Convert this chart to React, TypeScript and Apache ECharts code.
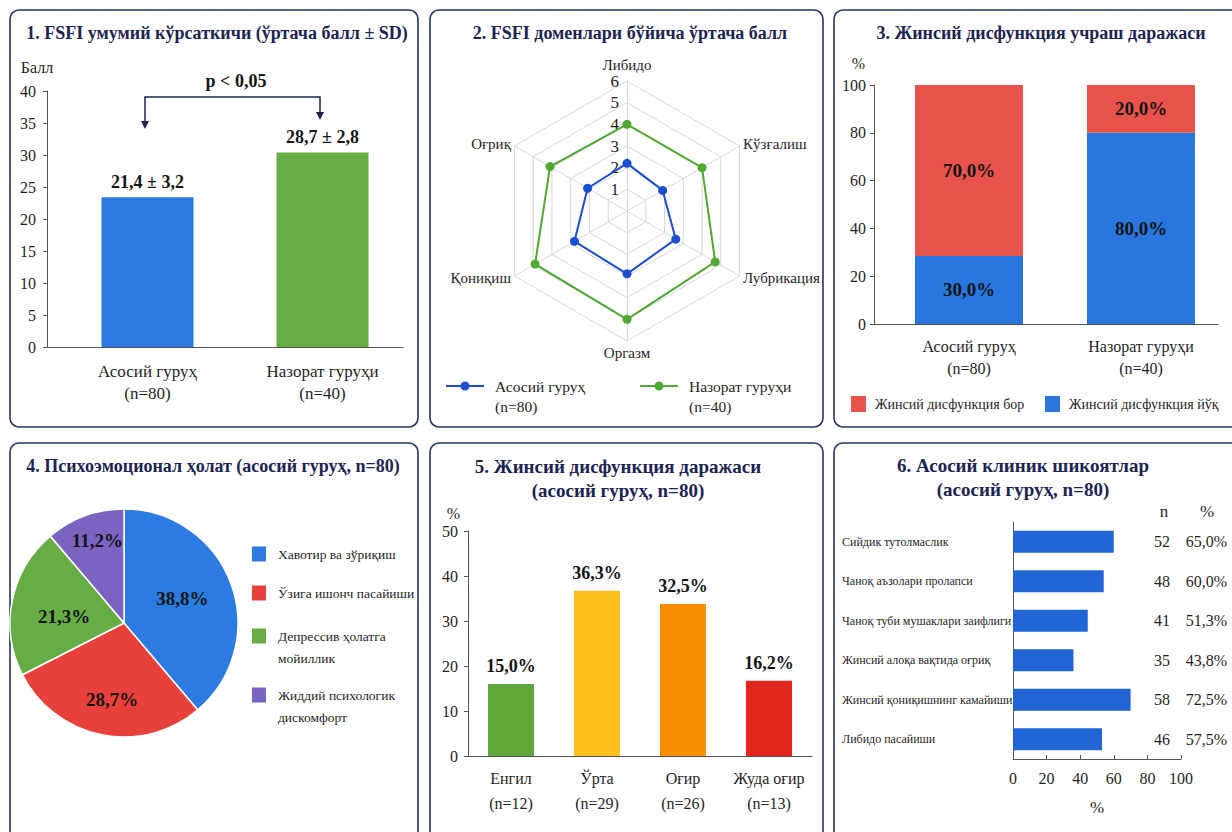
import React, { useEffect, useRef } from 'react';
import * as echarts from 'echarts';

const FONT = "'Liberation Serif', 'Times New Roman', serif";
const NAVY = '#1c2452';
const TEXT = '#1f1f1f';
const AXIS = '#555555';

// ---------- titles ----------
const titles = [
  '1. FSFI умумий кўрсаткичи (ўртача балл ± SD)',
  '2. FSFI доменлари бўйича ўртача балл',
  '3. Жинсий дисфункция учраш даражаси',
  '4. Психоэмоционал ҳолат (асосий гуруҳ, n=80)',
  '5. Жинсий дисфункция даражаси\n(асосий гуруҳ, n=80)',
  '6. Асосий клиник шикоятлар\n(асосий гуруҳ, n=80)',
];

// ---------- panel 1 ----------
const groups = ['Асосий гуруҳ', 'Назорат гуруҳи'];
const groupN = ['(n=80)', '(n=40)'];
const fsfiBar = [23.4, 30.4];
const fsfiLabels = ['21,4 ± 3,2', '28,7 ± 2,8'];
const fsfiColors = ['#2b7be0', '#66ad45'];
const fsfiUnit = 'Балл';
const pValue = 'p < 0,05';

// ---------- panel 2 (radar, counter-clockwise from top) ----------
const domains = ['Либидо', 'Оғриқ', 'Қониқиш', 'Оргазм', 'Лубрикация', 'Кўзғалиш'];
const domainMain = [2.2, 2.1, 2.8, 2.9, 2.6, 1.9];
const domainControl = [4.0, 4.1, 4.9, 5.0, 4.7, 4.0];
const radarColors = ['#1c4ed0', '#4fa832'];

// ---------- panel 3 ----------
const dysSeries = ['Жинсий дисфункция бор', 'Жинсий дисфункция йўқ'];
const dysYes = [71.5, 20];
const dysNo = [28.5, 80];
const dysYesLabels = ['70,0%', '20,0%'];
const dysNoLabels = ['30,0%', '80,0%'];
const dysColors = ['#e8534b', '#2876de'];
const pctUnit = '%';

// ---------- panel 4 ----------
const psychLabels = ['Хавотир ва зўриқиш', 'Ўзига ишонч пасайиши', 'Депрессив ҳолатга мойиллик', 'Жиддий психологик дискомфорт'];
const psychValues = [38.8, 28.7, 21.3, 11.2];
const psychColors = ['#2b7be0', '#e8403b', '#66ad45', '#7b63c2'];

// ---------- panel 5 ----------
const severity = ['Енгил', 'Ўрта', 'Оғир', 'Жуда оғир'];
const severityN = ['(n=12)', '(n=29)', '(n=26)', '(n=13)'];
const severityBar = [16.0, 36.7, 33.8, 16.7];
const severityLabels = ['15,0%', '36,3%', '32,5%', '16,2%'];
const severityColors = ['#5ea83c', '#fbbf1e', '#fb8d05', '#e2261f'];

// ---------- panel 6 ----------
const complaints = [
  'Сийдик тутолмаслик',
  'Чаноқ аъзолари пролапси',
  'Чаноқ туби мушаклари заифлиги',
  'Жинсий алоқа вақтида оғриқ',
  'Жинсий қониқишнинг камайиши',
  'Либидо пасайиши',
];
const complaintBar = [60, 54, 44.5, 36, 70, 53];
const complaintN = ['52', '48', '41', '35', '58', '46'];
const complaintPct = ['65,0%', '60,0%', '51,3%', '43,8%', '72,5%', '57,5%'];
const complaintHeaders = ['n', '%'];
const complaintColor = '#2266d6';

const t = (size: number, extra: any = {}) => ({ fontFamily: FONT, fontSize: size, color: TEXT, ...extra });
const axisLine = { show: true, lineStyle: { color: AXIS, width: 1 } };
const wrapLegend = (name: string) => {
  if (name.length <= 22) return name;
  const w = name.split(' ');
  return w.slice(0, 2).join(' ') + '\n' + w.slice(2).join(' ');
};

// legend icons drawn at the top of a tall icon box, so they sit beside the first text line
const RADAR_ICON = 'path://M0,0L0,0M0,40L0,40M0,9H38V11H0ZM23.5,10A4.5,4.5,0,1,1,14.5,10A4.5,4.5,0,1,1,23.5,10Z';
const SQUARE_TOP_ICON = 'path://M0,0L0,0M0,44L0,44M0,2.5H16V19.5H0Z';

function buildOption(): any {
  const titlePos = [[217, 21], [630, 21], [1041, 21], [213, 454], [618, 454], [1023, 453]];
  const titleSize = [18, 18, 18, 18, 19, 19];
  const panels = [
    [10, 10, 408, 417], [430, 10, 393, 417], [834, 10, 410, 417],
    [10, 443, 408, 400], [430, 443, 393, 400], [834, 443, 410, 400],
  ];
  const pieLegendTops = [543, 582, 624, 683];
  // nudges of the pie's inside labels (the original pie is slightly oval)
  const pieLabelShift = [[2, -4], [0, 18], [-1, 5], [-6, -26]];

  return {
    animation: false,
    backgroundColor: '#ffffff',
    textStyle: { fontFamily: FONT },
    title: titles.map((text, i) => ({
      text,
      left: titlePos[i][0],
      top: titlePos[i][1],
      textAlign: 'center',
      textVerticalAlign: 'top',
      padding: 0,
      textStyle: { fontFamily: FONT, fontSize: titleSize[i], fontWeight: 'bold', color: NAVY, lineHeight: 24 },
    })),
    grid: [
      { left: 47, top: 91, width: 356, height: 256 },
      { left: 60, top: 91, width: 350, height: 256 },
      { left: 874, top: 85, width: 344, height: 239 },
      { left: 883, top: 85, width: 344, height: 239 },
      { left: 468, top: 531, width: 344, height: 225 },
      { left: 1013, top: 522, width: 168, height: 237 },
    ].map((g) => ({ ...g, containLabel: false, outerBoundsMode: 'none' })),
    xAxis: [
      { gridIndex: 0, type: 'category', data: groups, axisLine, axisTick: { show: false }, axisLabel: { show: false } },
      {
        gridIndex: 1, type: 'category', data: groups, axisLine: { show: false }, axisTick: { show: false },
        axisLabel: { ...t(17), interval: 0, margin: 14, lineHeight: 21.5, formatter: (v: string, i: number) => `${v}\n${groupN[i]}` },
      },
      { gridIndex: 2, type: 'category', data: groups, axisLine, axisTick: { show: false }, axisLabel: { show: false } },
      {
        gridIndex: 3, type: 'category', data: groups, axisLine: { show: false }, axisTick: { show: false },
        axisLabel: { ...t(16), interval: 0, margin: 11, lineHeight: 22, formatter: (v: string, i: number) => `${v}\n${groupN[i]}` },
      },
      {
        gridIndex: 4, type: 'category', data: severity, axisLine, axisTick: { show: false },
        axisLabel: { ...t(16), interval: 0, margin: 10, lineHeight: 25, formatter: (v: string, i: number) => `${v}\n${severityN[i]}` },
      },
      {
        gridIndex: 5, type: 'value', min: 0, max: 100, interval: 20, axisLine,
        axisTick: { show: true, inside: true, length: 4, lineStyle: { color: AXIS } },
        splitLine: { show: false }, axisLabel: { ...t(16), margin: 11 },
        name: pctUnit, nameLocation: 'middle', nameGap: 40, nameTextStyle: t(17),
      },
    ],
    yAxis: [
      {
        gridIndex: 0, type: 'value', min: 0, max: 40, interval: 5, axisLine,
        axisTick: { show: true, length: 4, lineStyle: { color: AXIS } }, splitLine: { show: false },
        axisLabel: { ...t(16), margin: 11 },
        name: fsfiUnit, nameLocation: 'end', nameGap: 16,
        nameTextStyle: t(16, { align: 'center', padding: [0, 20, 0, 0] }),
      },
      { gridIndex: 1, type: 'value', min: 0, max: 40, show: false },
      {
        gridIndex: 2, type: 'value', min: 0, max: 100, interval: 20, axisLine,
        axisTick: { show: true, length: 4, lineStyle: { color: AXIS } }, splitLine: { show: false },
        axisLabel: { ...t(16), margin: 8 },
        name: pctUnit, nameLocation: 'end', nameGap: 14,
        nameTextStyle: t(16, { align: 'right', padding: [0, 9, 0, 0] }),
      },
      { gridIndex: 3, type: 'value', min: 0, max: 100, show: false },
      {
        gridIndex: 4, type: 'value', min: 0, max: 50, interval: 10, axisLine,
        axisTick: { show: true, length: 4, lineStyle: { color: AXIS } }, splitLine: { show: false },
        axisLabel: { ...t(16), margin: 10 },
        name: pctUnit, nameLocation: 'end', nameGap: 10,
        nameTextStyle: t(16, { align: 'right', padding: [0, 8, 0, 0] }),
      },
      {
        gridIndex: 5, type: 'category', inverse: true, data: complaints, axisLine, axisTick: { show: false },
        axisLabel: { ...t(12), interval: 0, align: 'left', margin: 171 },
      },
      {
        gridIndex: 5, type: 'category', inverse: true, position: 'right', offset: -11, data: complaintN,
        axisLine: { show: false }, axisTick: { show: false },
        axisLabel: { ...t(16), interval: 0, align: 'right', margin: 0 },
      },
      {
        gridIndex: 5, type: 'category', inverse: true, position: 'right', offset: 46, data: complaintPct,
        axisLine: { show: false }, axisTick: { show: false },
        axisLabel: { ...t(16), interval: 0, align: 'right', margin: 0 },
      },
    ],
    radar: {
      center: [627, 211],
      radius: 130,
      startAngle: 90,
      splitNumber: 6,
      shape: 'polygon',
      nameGap: 4,
      axisName: t(15),
      axisLine: { lineStyle: { color: '#d8d8d8' } },
      splitLine: { lineStyle: { color: '#d8d8d8' } },
      splitArea: { show: false },
      axisTick: { show: false },
      axisLabel: { show: false },
      indicator: domains.map((name, i) =>
        i === 0
          ? { name, min: 0, max: 6, axisLabel: { show: true, ...t(17), margin: 8, formatter: (v: number) => (v === 0 ? '' : String(v)) } }
          : { name, min: 0, max: 6 }
      ),
    },
    legend: [
      ...groups.map((name, i) => ({
        data: [name],
        left: [446, 640][i],
        top: 376,
        padding: 0,
        icon: RADAR_ICON,
        itemWidth: 38,
        itemHeight: 40,
        formatter: (n: string) => `${n}\n${groupN[groups.indexOf(n)]}`,
        textStyle: t(15.5, { lineHeight: 20, padding: [0, 0, 0, 6] }),
      })),
      ...dysSeries.map((name, i) => ({
        data: [name],
        left: [851, 1045][i],
        top: 396,
        padding: 0,
        icon: 'rect',
        itemWidth: 15,
        itemHeight: 16,
        textStyle: t(14, { padding: [0, 0, 0, 4] }),
      })),
      ...psychLabels.map((name, i) => {
        const two = name.length > 22;
        return {
          data: [name],
          left: 250,
          top: pieLegendTops[i],
          padding: 0,
          orient: 'vertical',
          icon: two ? SQUARE_TOP_ICON : 'rect',
          itemWidth: 16,
          itemHeight: two ? 44 : 17,
          formatter: wrapLegend,
          textStyle: t(13.5, { lineHeight: 22, padding: [0, 0, 0, 6] }),
        };
      }),
    ],
    series: [
      {
        type: 'bar', xAxisIndex: 1, yAxisIndex: 1, barWidth: 92,
        data: fsfiBar.map((v, i) => ({ value: v, itemStyle: { color: fsfiColors[i] } })),
        label: {
          show: true, position: 'top', distance: 6, ...t(18, { fontWeight: 'bold', color: '#151515' }),
          formatter: (p: any) => fsfiLabels[p.dataIndex],
        },
      },
      {
        type: 'radar', radarIndex: 0, symbol: 'circle', symbolSize: 9,
        data: [
          { name: groups[0], value: domainMain, itemStyle: { color: radarColors[0] }, lineStyle: { color: radarColors[0], width: 2 } },
          { name: groups[1], value: domainControl, itemStyle: { color: radarColors[1] }, lineStyle: { color: radarColors[1], width: 2 } },
        ],
      },
      {
        name: dysSeries[1], type: 'bar', stack: 'dys', xAxisIndex: 3, yAxisIndex: 3, barWidth: 108,
        itemStyle: { color: dysColors[1] }, data: dysNo,
        label: { show: true, position: 'inside', ...t(19, { fontWeight: 'bold', color: '#151515' }), formatter: (p: any) => dysNoLabels[p.dataIndex] },
      },
      {
        name: dysSeries[0], type: 'bar', stack: 'dys', xAxisIndex: 3, yAxisIndex: 3, barWidth: 108,
        itemStyle: { color: dysColors[0] }, data: dysYes,
        label: { show: true, position: 'inside', ...t(19, { fontWeight: 'bold', color: '#151515' }), formatter: (p: any) => dysYesLabels[p.dataIndex] },
      },
      {
        type: 'pie', center: [124, 623], radius: 114, startAngle: 90, clockwise: true,
        itemStyle: { borderColor: '#ffffff', borderWidth: 1.5 },
        labelLine: { show: false },
        label: {
          show: true, position: 'inside', ...t(19, { fontWeight: 'bold', color: '#151515' }),
          formatter: (p: any) => `${p.value.toFixed(1).replace('.', ',')}%`,
        },
        labelLayout: (p: any) => ({ dx: pieLabelShift[p.dataIndex][0], dy: pieLabelShift[p.dataIndex][1] }),
        data: psychLabels.map((name, i) => ({ name, value: psychValues[i], itemStyle: { color: psychColors[i] } })),
      },
      {
        type: 'bar', xAxisIndex: 4, yAxisIndex: 4, barWidth: 46,
        data: severityBar.map((v, i) => ({ value: v, itemStyle: { color: severityColors[i] } })),
        label: {
          show: true, position: 'top', distance: 9, ...t(18, { fontWeight: 'bold', color: '#151515' }),
          formatter: (p: any) => severityLabels[p.dataIndex],
        },
      },
      {
        type: 'bar', xAxisIndex: 5, yAxisIndex: 5, barWidth: 22,
        itemStyle: { color: complaintColor }, data: complaintBar,
      },
    ],
    graphic: {
      elements: [
        ...panels.map(([x, y, w, h]) => ({
          type: 'rect', silent: true, z: -10,
          shape: { x, y, width: w, height: h, r: 9 },
          style: { fill: 'none', stroke: '#26345f', lineWidth: 1.6 },
        })),
        {
          type: 'polyline', silent: true,
          shape: { points: [[145, 123], [145, 97], [320, 97], [320, 114]] },
          style: { stroke: NAVY, lineWidth: 1.5, fill: 'none' },
        },
        { type: 'polygon', silent: true, shape: { points: [[141, 121], [149, 121], [145, 129]] }, style: { fill: NAVY } },
        { type: 'polygon', silent: true, shape: { points: [[316, 112], [324, 112], [320, 120]] }, style: { fill: NAVY } },
        {
          type: 'text', x: 236, y: 81, silent: true,
          style: { text: pValue, fontFamily: FONT, fontSize: 18, fontWeight: 'bold', fill: '#151515', align: 'center', verticalAlign: 'middle' },
        },
        ...complaintHeaders.map((h, i) => ({
          type: 'text', x: [1164, 1207][i], y: 511, silent: true,
          style: { text: h, fontFamily: FONT, fontSize: 17, fill: TEXT, align: 'center', verticalAlign: 'middle' },
        })),
      ],
    },
  };
}

export default function App() {
  const ref = useRef<HTMLDivElement>(null);
  useEffect(() => {
    document.body.style.margin = '0';
    if (!ref.current) return;
    const chart = echarts.init(ref.current, undefined, { renderer: 'svg' });
    chart.setOption(buildOption());
    return () => chart.dispose();
  }, []);
  return <div ref={ref} style={{ position: 'absolute', left: 0, top: 0, width: 1232, height: 832, background: '#fff' }} />;
}
